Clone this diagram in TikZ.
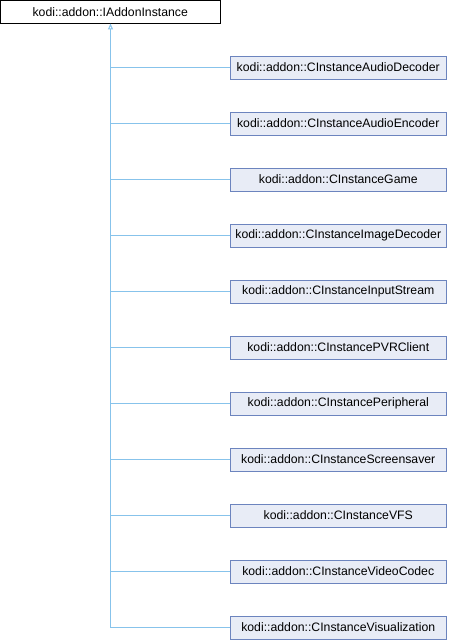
\documentclass[tikz,border=0pt]{standalone}
\usepackage{fontspec}
\setmainfont{Liberation Sans}
\usetikzlibrary{arrows.meta}
\definecolor{edgecol}{RGB}{135,195,235}
\definecolor{boxfill}{RGB}{232,236,246}
\definecolor{boxdraw}{RGB}{108,132,190}
\begin{document}
\begin{tikzpicture}[x=1bp,y=-1bp,
  base/.style={draw=black,fill=white,minimum width=219.5bp,minimum height=22.5bp,inner sep=0pt,font=\fontsize{12.3}{14}\selectfont,line width=0.9bp},
  child/.style={draw=boxdraw,fill=boxfill,minimum width=216.5bp,minimum height=23bp,inner sep=0pt,font=\fontsize{12.3}{14}\selectfont,line width=0.9bp},
  edge/.style={draw=edgecol,line width=1bp}]
\useasboundingbox (0,0) rectangle (450,640);
\node[base] (b) at (110.25,11.75) {kodi::addon::IAddonInstance};
\foreach \t [count=\i from 0] in {AudioDecoder,AudioEncoder,Game,ImageDecoder,InputStream,PVRClient,Peripheral,Screensaver,VFS,VideoCodec,Visualization}{
  \node[child] (c\i) at (338.25,{67.5+56*\i}) {kodi::addon::CInstance\t};
  \draw[edge] (c\i.west) -- (110.5,{67.5+56*\i});
}
\coordinate (bot) at (110.5,627.5);
\draw[edge,-{Triangle[open,length=6bp,width=5bp]}] (bot) -- (b.south -| bot);
\end{tikzpicture}
\end{document}
